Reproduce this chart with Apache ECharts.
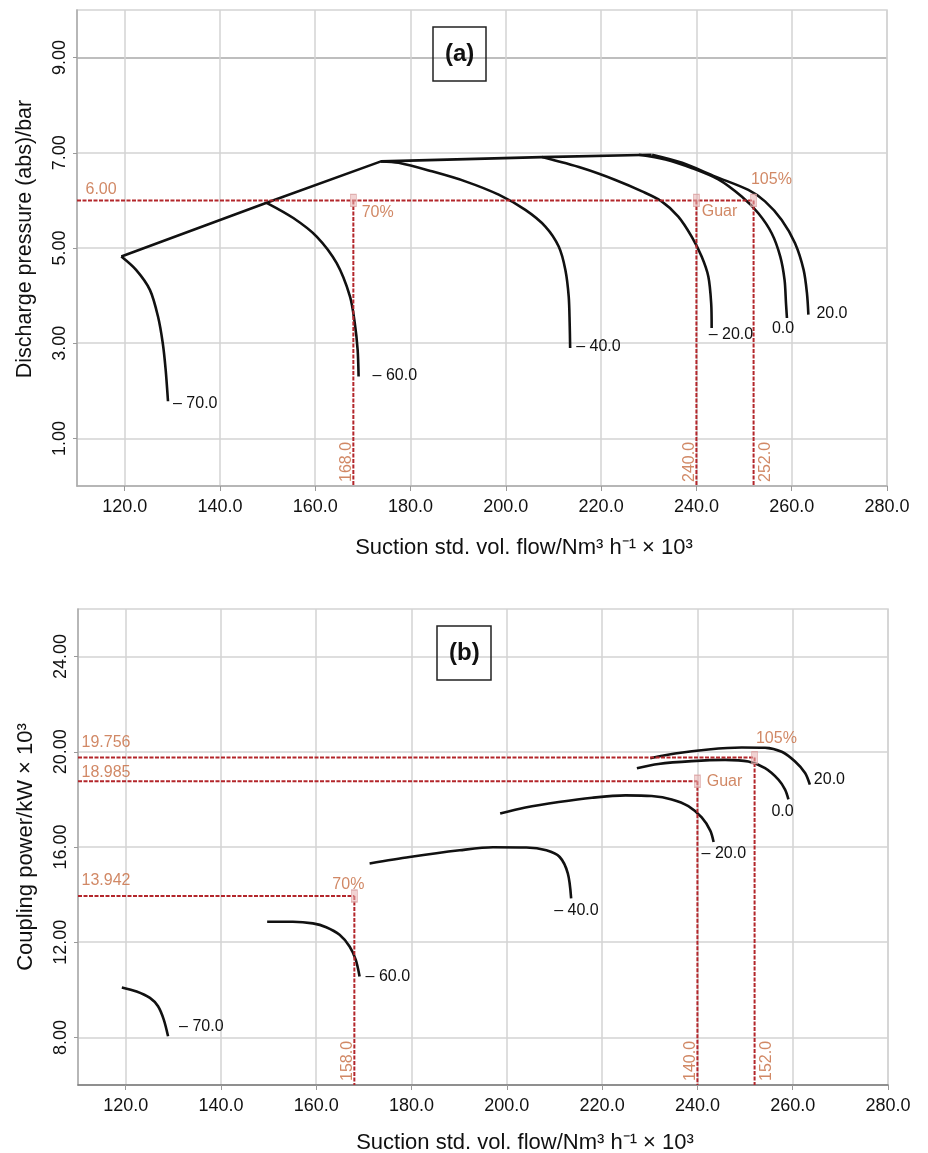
<!DOCTYPE html>
<html>
<head>
<meta charset="UTF-8">
<title>Compressor map</title>
<script src="https://cdn.jsdelivr.net/npm/echarts@6/dist/echarts.min.js"></script>
<style>
  body { margin: 0; background: #fff; }
  #chart { width: 928px; height: 1153px; }
</style>
</head>
<body>
<div id="chart"></div>
<script>
// ---- data ----
const xTicks = [120, 140, 160, 180, 200, 220, 240, 260, 280];
const yTicksA = [1, 3, 5, 7, 9];
const yTicksB = [8, 12, 16, 20, 24];
const curveNames = ['– 70.0', '– 60.0', '– 40.0', '– 20.0', '0.0', '20.0'];

// (a) discharge pressure
const surgeA = [[119.3, 4.82], [149.8, 5.95], [173.8, 6.82], [207.5, 6.91], [230.6, 6.96]];
const a_m70 = [[119.3, 4.82], [122.4, 4.54], [125.3, 4.12], [127.0, 3.56], [128.0, 3.00], [128.6, 2.45], [129.1, 1.78]];
const a_m60 = [[149.8, 5.95], [155.4, 5.63], [160.3, 5.24], [164.5, 4.68], [167.3, 3.98], [168.3, 3.42], [168.9, 2.86], [169.1, 2.30]];
const a_m40 = [[173.8, 6.82], [177.5, 6.79], [184.5, 6.61], [191.5, 6.40], [198.5, 6.12], [204.1, 5.80], [208.3, 5.45], [211.1, 5.03], [212.5, 4.54], [213.2, 3.98], [213.4, 3.42], [213.5, 2.90]];
const a_m20 = [[207.6, 6.91], [216.0, 6.68], [223.0, 6.43], [228.6, 6.19], [232.7, 5.98], [236.2, 5.66], [239.0, 5.24], [241.1, 4.82], [242.5, 4.40], [243.1, 3.84], [243.2, 3.32]];
const a_0 = [[227.9, 6.96], [233.5, 6.86], [239.0, 6.68], [244.6, 6.44], [249.5, 6.08], [253.0, 5.73], [255.8, 5.31], [257.6, 4.82], [258.5, 4.33], [258.8, 3.84], [259.0, 3.53]];
const a_20 = [[230.7, 6.96], [237.0, 6.79], [244.0, 6.50], [250.9, 6.22], [254.4, 5.98], [257.9, 5.59], [260.7, 5.10], [262.5, 4.54], [263.2, 4.05], [263.5, 3.60]];

// (b) coupling power
const b_m70 = [[119.2, 10.10], [122.3, 9.93], [125.1, 9.66], [126.8, 9.31], [128.0, 8.75], [128.9, 8.05]];
const b_m60 = [[149.7, 12.86], [155.1, 12.86], [159.3, 12.79], [162.1, 12.63], [164.9, 12.31], [167.0, 11.82], [168.3, 11.26], [169.1, 10.56]];
const b_m40 = [[171.2, 15.31], [179.6, 15.58], [190.1, 15.86], [197.1, 15.99], [204.1, 15.98], [208.3, 15.86], [211.1, 15.58], [212.8, 14.89], [213.5, 13.84]];
const b_m20 = [[198.6, 17.41], [203.9, 17.66], [210.9, 17.89], [217.9, 18.07], [224.9, 18.17], [230.4, 18.14], [234.6, 18.0], [238.1, 17.72], [240.9, 17.24], [242.7, 16.69], [243.4, 16.21]];
const b_0 = [[227.3, 19.31], [231.8, 19.49], [238.8, 19.61], [245.8, 19.66], [250.7, 19.59], [254.2, 19.31], [257.0, 18.83], [258.4, 18.41], [259.1, 18.0]];
const b_20 = [[230.1, 19.73], [235.3, 19.93], [242.3, 20.10], [249.3, 20.18], [254.2, 20.17], [257.7, 20.0], [260.5, 19.59], [262.6, 19.11], [263.6, 18.62]];

// operating points (flow, value) and their texts
const opFlow = [168, 240, 252];
const opNames = ['70%', 'Guar', '105%'];
const opPressA = [6, 6, 6];
const opPowerB = [13.942, 18.76, 19.756];      // drawn positions
const opPowerTxtB = ['13.942', '18.985', '19.756'];
const flowTxtA = ['168.0', '240.0', '252.0'];
const flowTxtB = ['158.0', '140.0', '152.0'];

// ---- styling ----
const FONT = 'Liberation Sans, Arial, sans-serif';
const ORANGE = '#c66a3f';
const RED = '#b3262b';
const GRIDC = '#d3d3d3';

const chart = echarts.init(document.getElementById('chart'));

function curve(name, data, idx, off) {
    return {
        type: 'line', name: name, data: data, xAxisIndex: idx, yAxisIndex: idx,
        smooth: 0.3, symbol: 'none', silent: true,
        lineStyle: { color: '#111', width: 2.6 },
        endLabel: { show: true, formatter: name, color: '#111', fontSize: 16, fontFamily: FONT, offset: off }
    };
}
function guide(data, idx) {
    return {
        type: 'line', data: data, xAxisIndex: idx, yAxisIndex: idx, symbol: 'none', silent: true,
        lineStyle: { color: RED, width: 2, type: [4, 1.5] }, z: 3
    };
}
function textPts(items, idx) {
    return {
        type: 'scatter', xAxisIndex: idx, yAxisIndex: idx, symbolSize: 1, silent: true,
        itemStyle: { color: 'rgba(0,0,0,0)' }, z: 6,
        data: items
    };
}

const series = [];
// surge line + curves
series.push({ type: 'line', data: surgeA, xAxisIndex: 0, yAxisIndex: 0, symbol: 'none', silent: true, lineStyle: { color: '#111', width: 2.6 } });
const aData = [a_m70, a_m60, a_m40, a_m20, a_0, a_20];
const aOff = [[-3, 2], [6, -1], [-2, -1], [-11, 7], [-23, 11], [0, -1]];
aData.forEach((d, i) => series.push(curve(curveNames[i], d, 0, aOff[i])));
const bData = [b_m70, b_m60, b_m40, b_m20, b_0, b_20];
const bOff = [[3, -10], [-2, 0], [-25, 12], [-20, 12], [-25, 12], [-4, -5]];
bData.forEach((d, i) => series.push(curve(curveNames[i], d, 1, bOff[i])));

// guide lines (a)
series.push(guide([[110, opPressA[0]], [opFlow[2], opPressA[2]]], 0));
opFlow.forEach((f, i) => series.push(guide([[f, opPressA[i]], [f, 0]], 0)));
// guide lines (b)
opFlow.forEach((f, i) => {
    series.push(guide([[110, opPowerB[i]], [f, opPowerB[i]]], 1));
    series.push(guide([[f, opPowerB[i]], [f, 6]], 1));
});

// operating point markers
function markers(vals, idx, lbl) {
    return {
        type: 'scatter', xAxisIndex: idx, yAxisIndex: idx, symbol: 'rect', symbolSize: [6, 12], silent: true, z: 5,
        itemStyle: { color: 'rgba(232,176,176,0.7)', borderColor: '#dba2a2', borderWidth: 1 },
        data: opFlow.map((f, i) => ({
            value: [f, vals[i]],
            label: Object.assign({ show: true, formatter: opNames[i], color: ORANGE, fontSize: 16, fontFamily: FONT }, lbl[i])
        }))
    };
}
series.push(markers(opPressA, 0, [
    { position: 'right', distance: 5, offset: [0, 12] },
    { position: 'right', distance: 2, offset: [0, 11] },
    { position: 'right', distance: 0, offset: [-6, -21] }
]));
series.push(markers(opPowerB, 1, [
    { position: 'top', distance: 2, offset: [-6, 5] },
    { position: 'right', distance: 6, offset: [0, 0] },
    { position: 'right', distance: 0, offset: [-2, -19] }
]));

// value texts on left
series.push(textPts([{ value: [110, opPressA[0]], label: { show: true, formatter: '6.00', position: 'right', distance: 8, offset: [0, -11], color: ORANGE, fontSize: 16, fontFamily: FONT } }], 0));
series.push(textPts(opPowerB.map((v, i) => ({
    value: [110, v],
    label: { show: true, formatter: opPowerTxtB[i], position: 'right', distance: 3, offset: [0, i === 1 ? -9 : -15], color: ORANGE, fontSize: 16, fontFamily: FONT }
})), 1));

// rotated flow texts at the bottom (offset is in the rotated frame: [up, right])
function flowTexts(txt, idx, y0) {
    return textPts(opFlow.map((f, i) => ({
        value: [f, y0],
        label: {
            show: true, formatter: txt[i], position: 'inside', rotate: 90,
            align: 'left', verticalAlign: 'bottom',
            offset: [4, i === 2 ? 20 : 1], color: ORANGE, fontSize: 16, fontFamily: FONT
        }
    })), idx);
}
series.push(flowTexts(flowTxtA, 0, 0));
series.push(flowTexts(flowTxtB, 1, 6));

const xAxisBase = (idx) => ({
    type: 'value', gridIndex: idx, min: 110, max: 280, interval: 10,
    name: 'Suction std. vol. flow/Nm³ h⁻¹ × 10³', nameLocation: 'middle', nameGap: idx ? 47 : 51,
    nameTextStyle: { fontSize: 22, color: '#111', fontFamily: FONT, padding: [0, 0, 0, 84] },
    axisLine: { show: true, onZero: false, lineStyle: { color: idx ? '#777' : '#aaa', width: 1.5 } },
    axisTick: { show: true, customValues: xTicks, length: 5, lineStyle: { color: '#999' } },
    axisLabel: { customValues: xTicks, formatter: v => v.toFixed(1), fontSize: 18, color: '#111', fontFamily: FONT, margin: 12 },
    splitLine: { show: true, lineStyle: { color: GRIDC, width: 1.5 } }
});

chart.setOption({
    animation: false,
    title: [
        { text: '(a)', left: 433, top: 27, padding: [15, 12], borderColor: '#222', borderWidth: 1.5,
          textStyle: { fontSize: 24, fontWeight: 'bold', color: '#111', fontFamily: FONT } },
        { text: '(b)', left: 437, top: 626, padding: [15, 12], borderColor: '#222', borderWidth: 1.5,
          textStyle: { fontSize: 24, fontWeight: 'bold', color: '#111', fontFamily: FONT } }
    ],
    grid: [
        { left: 77, width: 810, top: 10, height: 476, show: true, borderColor: GRIDC, borderWidth: 1.5, outerBoundsMode: 'none' },
        { left: 78, width: 810, top: 609, height: 476, show: true, borderColor: GRIDC, borderWidth: 1.5, outerBoundsMode: 'none' }
    ],
    xAxis: [xAxisBase(0), xAxisBase(1)],
    yAxis: [
        {
            type: 'value', gridIndex: 0, min: 0, max: 10, interval: 1,
            name: 'Discharge pressure (abs)/bar', nameLocation: 'middle', nameGap: 41,
            nameTextStyle: { fontSize: 21.5, color: '#111', fontFamily: FONT, padding: [0, 0, 0, 18] },
            axisLine: { show: true, lineStyle: { color: '#aaa', width: 1.5 } },
            axisTick: { show: true, customValues: yTicksA, length: 4, lineStyle: { color: '#999' } },
            axisLabel: { customValues: yTicksA, formatter: v => v.toFixed(2), rotate: 90, fontSize: 18, color: '#111', fontFamily: FONT, margin: 8 },
            splitLine: { show: true, lineStyle: { color: [GRIDC, GRIDC, GRIDC, GRIDC, '#a8a8a8', GRIDC, GRIDC, GRIDC, GRIDC, GRIDC, GRIDC], width: 1.5 } }
        },
        {
            type: 'value', gridIndex: 1, min: 6, max: 26, interval: 2,
            name: 'Coupling power/kW × 10³', nameLocation: 'middle', nameGap: 41,
            nameTextStyle: { fontSize: 22, color: '#111', fontFamily: FONT },
            axisLine: { show: true, lineStyle: { color: '#aaa', width: 1.5 } },
            axisTick: { show: true, customValues: yTicksB, length: 4, lineStyle: { color: '#999' } },
            axisLabel: { customValues: yTicksB, formatter: v => v.toFixed(2), rotate: 90, fontSize: 18, color: '#111', fontFamily: FONT, margin: 8 },
            splitLine: { show: true, lineStyle: { color: GRIDC, width: 1.5 } }
        }
    ],
    series: series
});
</script>
</body>
</html>
